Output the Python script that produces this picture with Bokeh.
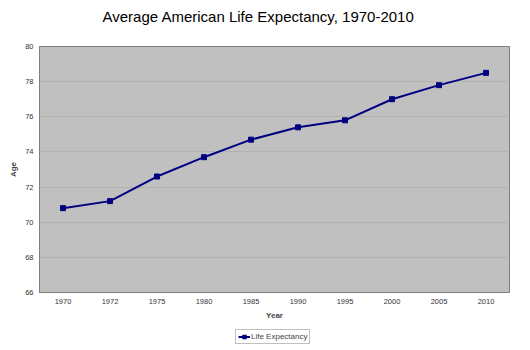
from bokeh.plotting import figure
from bokeh.layouts import column
from bokeh.models import Legend, LegendItem, FixedTicker, Range1d
from bokeh.core.properties import value
from bokeh.embed import file_html
from bokeh.resources import INLINE

chart_title = "Average American Life Expectancy, 1970-2010"
years = ["1970", "1972", "1975", "1980", "1985", "1990", "1995", "2000", "2005", "2010"]
life_expectancy = [70.8, 71.2, 72.6, 73.7, 74.7, 75.4, 75.8, 77.0, 77.8, 78.5]
y_ticks = [66, 68, 70, 72, 74, 76, 78, 80]
series_name = "Life Expectancy"

FONT = "Liberation Sans"
NAVY = "#000080"

# title strip above the chart
pt = figure(width=530, height=26, x_range=Range1d(0, 530), y_range=Range1d(0, 26),
            output_backend="svg", toolbar_location=None,
            x_axis_location=None, y_axis_location=None,
            min_border_left=0, min_border_right=0, min_border_top=0, min_border_bottom=0)
pt.grid.visible = False
pt.outline_line_color = None
pt.background_fill_color = "white"
pt.text(x=[247], y=[10], text=[chart_title], text_align="center",
        text_baseline="middle", text_font=value(FONT), text_font_size="15px",
        text_color="#000000")

p = figure(width=530, height=296, x_range=years, y_range=(66, 80),
           output_backend="svg", toolbar_location=None,
           min_border_left=39, min_border_right=21, min_border_top=20, min_border_bottom=30)

p.background_fill_color = "#C0C0C0"
p.border_fill_color = "white"
p.outline_line_color = "#808080"
p.outline_line_width = 1

p.xgrid.grid_line_color = None
p.ygrid.grid_line_color = "#A9A9A9"
p.ygrid.grid_line_alpha = 0.6

p.yaxis.ticker = FixedTicker(ticks=y_ticks)
for ax in (p.xaxis[0], p.yaxis[0]):
    ax.major_label_text_font = FONT
    ax.major_label_text_font_size = "7.5px"
    ax.major_label_text_color = "#333333"
    ax.axis_label_text_font = FONT
    ax.axis_label_text_font_size = "8px"
    ax.axis_label_text_font_style = "bold"
    ax.major_tick_line_color = None
    ax.minor_tick_line_color = None
    ax.major_tick_out = 0
    ax.major_tick_in = 0
    ax.minor_tick_out = 0
    ax.minor_tick_in = 0
    ax.axis_line_color = "#808080"

p.yaxis.axis_label = "Age"
p.xaxis.axis_label = "Year"
p.yaxis.major_label_standoff = 6
p.xaxis.major_label_standoff = 6
p.yaxis.axis_label_standoff = 4
p.xaxis.axis_label_standoff = 4

p.line(years, life_expectancy, line_color=NAVY, line_width=2)
p.scatter(years, life_expectancy, marker="square", size=5,
          fill_color=NAVY, line_color=NAVY)

# legend strip below the chart
p2 = figure(width=530, height=28, x_range=Range1d(0, 1), y_range=Range1d(0, 1),
            output_backend="svg", toolbar_location=None,
            min_border_left=0, min_border_right=0, min_border_top=0, min_border_bottom=0)
p2.axis.visible = False
p2.grid.visible = False
p2.outline_line_color = None
p2.background_fill_color = "white"
l1 = p2.line([5, 6], [5, 6], line_color=NAVY, line_width=2)
l2 = p2.scatter([5], [5], marker="square", size=5, fill_color=NAVY, line_color=NAVY)

legend = Legend(items=[LegendItem(label=series_name, renderers=[l1, l2])],
                location=(196, 6), orientation="horizontal",
                label_text_font=FONT, label_text_font_size="8px",
                border_line_color="#808080", border_line_width=1,
                background_fill_color="white",
                padding=2, spacing=0, margin=0,
                glyph_width=12, glyph_height=9, label_standoff=1,
                label_height=9)
p2.add_layout(legend, "center")

layout = column(pt, p, p2, spacing=0)
open("out.html", "w").write(file_html(layout, INLINE))
